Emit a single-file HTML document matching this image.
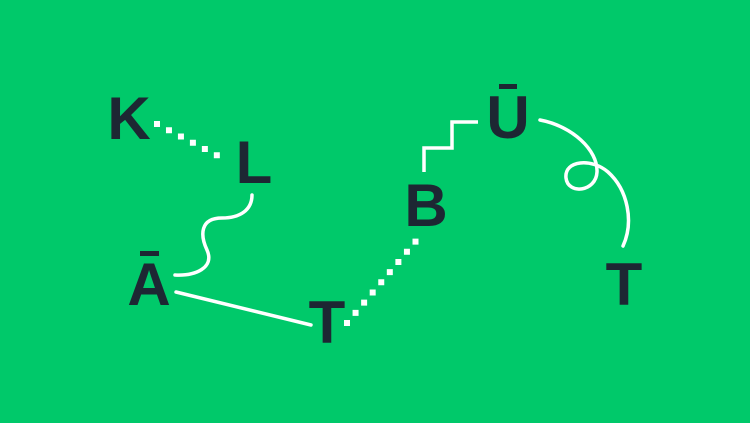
<!DOCTYPE html>
<html><head><meta charset="utf-8"><style>
html,body{margin:0;padding:0;background:#00c96a;}
svg{display:block}
text{font-family:"Liberation Sans",sans-serif;font-weight:bold;fill:#1d2733;font-size:60px;text-anchor:middle}
</style></head><body>
<svg width="750" height="423" viewBox="0 0 750 423">
<rect width="750" height="423" fill="#00c96a"/>
<g fill="none" stroke="#fff" stroke-width="3.5" stroke-linecap="round">
<line x1="157" y1="124" x2="224" y2="159" stroke-dasharray="0 13.5" stroke-width="6" stroke-linecap="square"/>
<line x1="347" y1="323" x2="416" y2="241" stroke-dasharray="0 13.3" stroke-width="6" stroke-linecap="square"/>
<path d="M252,195 C252,210 240,218 222,218 C200,218 200,235 207,250 C215,268 195,276 175,275"/>
<line x1="176" y1="292" x2="311" y2="325"/>
<path d="M424,172 L424,148 L452,148 L452,122 L478,122" stroke-linecap="butt"/>
<path d="M540,120 C572,126 598,150 597,172 C596,192 568,195 566,178 C564,160 592,158 608,172 C628,190 634,222 623,246"/>
</g>
<text x="129" y="139">K</text>
<text x="254" y="183">L</text>
<text x="426" y="226">B</text>
<text x="149" y="305">A</text>
<rect x="140" y="251" width="19" height="5" fill="#1d2733"/>
<text x="327" y="343">T</text>
<text x="508" y="138">U</text>
<rect x="499" y="84" width="18" height="5" fill="#1d2733"/>
<text x="624" y="305">T</text>
</svg>
</body></html>
